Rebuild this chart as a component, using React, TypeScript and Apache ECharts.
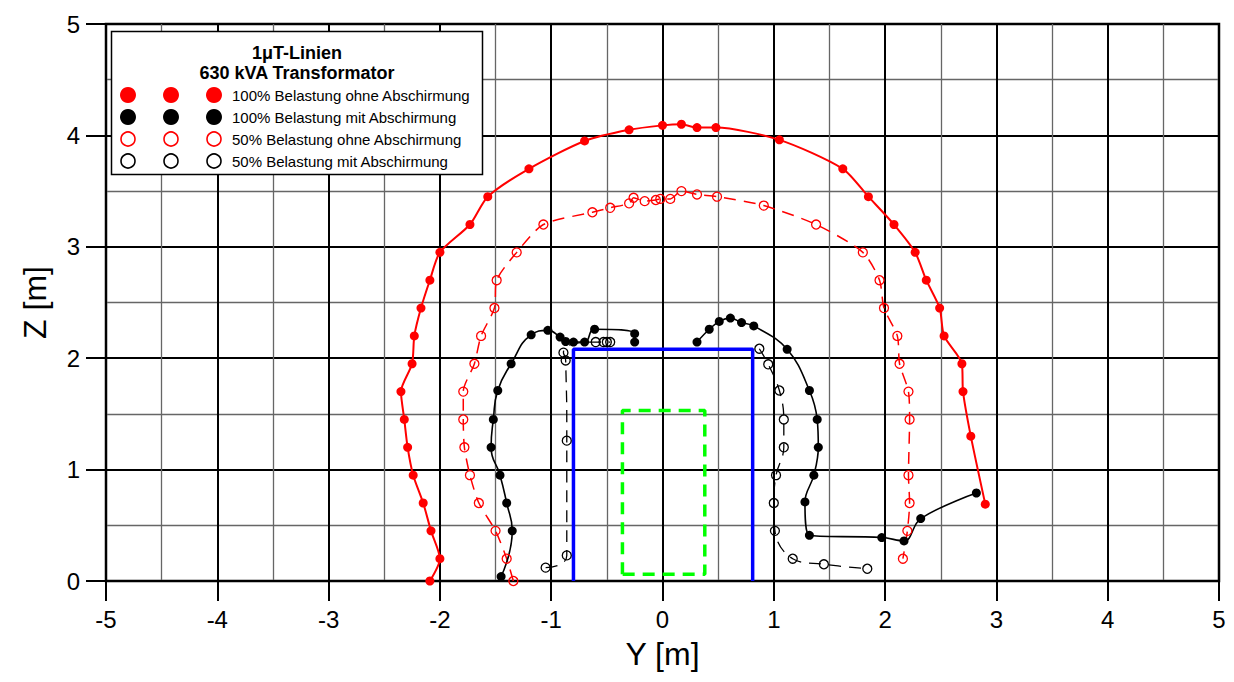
import React, { useEffect, useRef } from "react";
import * as echarts from "echarts";

// ---- data (Y [m], Z [m]) ----
const redFull: [number, number][] = [
  [-2.09, 0], [-2.0, 0.2], [-2.08, 0.45], [-2.15, 0.7], [-2.24, 0.95], [-2.29, 1.2],
  [-2.32, 1.45], [-2.35, 1.7], [-2.25, 1.95], [-2.23, 2.2], [-2.17, 2.45], [-2.09, 2.7],
  [-2.0, 2.95], [-1.73, 3.2], [-1.57, 3.45], [-1.2, 3.7], [-0.7, 3.95], [-0.3, 4.05],
  [0.0, 4.09], [0.17, 4.1], [0.31, 4.07], [0.48, 4.07], [1.05, 3.96], [1.62, 3.7],
  [1.85, 3.45], [2.08, 3.2], [2.27, 2.95], [2.37, 2.7], [2.49, 2.45], [2.53, 2.2],
  [2.69, 1.95], [2.7, 1.7], [2.77, 1.3], [2.9, 0.69],
];

const redHalf: [number, number][] = [
  [-1.34, 0], [-1.4, 0.2], [-1.5, 0.45], [-1.65, 0.7], [-1.73, 0.95], [-1.78, 1.2],
  [-1.79, 1.45], [-1.79, 1.7], [-1.69, 1.95], [-1.63, 2.2], [-1.51, 2.45], [-1.49, 2.7],
  [-1.31, 2.95], [-1.07, 3.2], [-0.63, 3.31], [-0.47, 3.35], [-0.3, 3.39], [-0.26, 3.44],
  [-0.16, 3.41], [-0.06, 3.42], [-0.02, 3.43], [0.07, 3.43], [0.17, 3.5], [0.31, 3.47],
  [0.49, 3.45], [0.91, 3.37], [1.38, 3.2], [1.8, 2.95], [1.95, 2.7], [1.99, 2.45],
  [2.11, 2.2], [2.13, 1.95], [2.21, 1.7], [2.22, 1.45], [2.21, 0.95], [2.22, 0.7],
  [2.2, 0.45], [2.16, 0.2],
];

const blackFullLeft: [number, number][] = [
  [-1.45, 0.04], [-1.35, 0.45], [-1.4, 0.7], [-1.46, 0.95], [-1.54, 1.2], [-1.52, 1.45],
  [-1.48, 1.71], [-1.36, 1.95], [-1.18, 2.21], [-1.03, 2.25], [-0.92, 2.19], [-0.87, 2.15],
  [-0.8, 2.145], [-0.7, 2.145], [-0.61, 2.26], [-0.25, 2.22], [-0.25, 2.145],
];

const blackFullRight: [number, number][] = [
  [0.31, 2.145], [0.42, 2.26], [0.51, 2.33], [0.61, 2.36], [0.71, 2.32], [0.82, 2.29],
  [1.12, 2.08], [1.32, 1.71], [1.39, 1.45], [1.4, 1.2], [1.36, 0.95], [1.28, 0.71],
  [1.32, 0.41], [1.97, 0.39], [2.17, 0.36], [2.32, 0.56], [2.82, 0.79],
];

const blackHalfLeft: [number, number][] = [
  [-1.05, 0.12], [-0.86, 0.23], [-0.86, 1.26], [-0.87, 1.98], [-0.89, 2.05],
  [-0.6, 2.145], [-0.53, 2.145], [-0.5, 2.145], [-0.47, 2.145],
];

const blackHalfRight: [number, number][] = [
  [0.87, 2.085], [0.95, 1.945], [1.05, 1.71], [1.09, 1.45], [1.09, 1.2], [1.02, 0.95],
  [1.0, 0.7], [1.01, 0.45], [1.17, 0.2], [1.45, 0.15], [1.84, 0.11],
];

const shieldOutline: [number, number][] = [
  [-0.8, 0], [-0.8, 2.08], [0.81, 2.08], [0.81, 0],
];

const transformerOutline: [number, number][] = [
  [-0.36, 0.06], [-0.36, 1.53], [0.38, 1.53], [0.38, 0.06], [-0.36, 0.06],
];

const xTicks = [-5, -4, -3, -2, -1, 0, 1, 2, 3, 4, 5];
const zTicks = [0, 1, 2, 3, 4, 5];

const legendTitle = ["1\u03bcT-Linien", "630 kVA Transformator"];
const legendLabels = [
  "100% Belastung ohne Abschirmung",
  "100% Belastung mit Abschirmung",
  "50% Belastung ohne Abschirmung",
  "50% Belastung mit Abschirmung",
];

const FONT = "'Liberation Sans', Arial, Helvetica, sans-serif";

export default function App() {
  const ref = useRef<HTMLDivElement>(null);

  useEffect(() => {
    if (!ref.current) return;
    const chart = echarts.init(ref.current, null, { renderer: "svg" });

    const filled = (color: string) => ({
      symbol: "circle",
      symbolSize: 9,
      itemStyle: { color, borderColor: color, borderWidth: 0 },
    });
    const open = (color: string) => ({
      symbol: "circle",
      symbolSize: 9,
      itemStyle: { color: "rgba(0,0,0,0)", borderColor: color, borderWidth: 1.3 },
    });

    const curve = (
      name: string,
      data: [number, number][],
      color: string,
      width: number,
      dashed: boolean,
      marker: any,
      smooth: number
    ) => ({
      name,
      type: "line",
      data,
      smooth,
      lineStyle: { color, width, type: dashed ? [12, 8] : "solid" },
      ...marker,
      z: 3,
    });

    const legendMarkerX = [128, 171, 214];
    const legendRowY = [95, 117, 139, 161];
    const legendStyles = [
      { fill: "#ff0000", stroke: "#ff0000", r: 8, lw: 0 },
      { fill: "#000000", stroke: "#000000", r: 8, lw: 0 },
      { fill: "#ffffff", stroke: "#ff0000", r: 7, lw: 1.6 },
      { fill: "#ffffff", stroke: "#000000", r: 7, lw: 1.6 },
    ];

    const graphics: any[] = [
      {
        type: "rect",
        shape: { x: 111.5, y: 31.5, width: 371, height: 143 },
        style: { fill: "#fff", stroke: "#000", lineWidth: 1.5 },
        z: 10,
      },
      {
        type: "text",
        x: 297,
        y: 53,
        style: {
          text: legendTitle[0],
          font: `bold 18px ${FONT}`,
          fill: "#000",
          align: "center",
          verticalAlign: "middle",
        },
        z: 11,
      },
      {
        type: "text",
        x: 297,
        y: 73,
        style: {
          text: legendTitle[1],
          font: `bold 18px ${FONT}`,
          fill: "#000",
          align: "center",
          verticalAlign: "middle",
        },
        z: 11,
      },
    ];
    legendLabels.forEach((label, i) => {
      const st = legendStyles[i];
      legendMarkerX.forEach((cx) => {
        graphics.push({
          type: "circle",
          shape: { cx, cy: legendRowY[i], r: st.r },
          style: { fill: st.fill, stroke: st.stroke, lineWidth: st.lw },
          z: 11,
        });
      });
      graphics.push({
        type: "text",
        x: 232,
        y: legendRowY[i],
        style: {
          text: label,
          font: `15px ${FONT}`,
          fill: "#000",
          align: "left",
          verticalAlign: "middle",
        },
        z: 11,
      });
    });

    const axisCommon = {
      type: "value" as const,
      interval: 1,
      axisLine: { show: true, onZero: false, lineStyle: { color: "#000", width: 2 } },
      axisTick: { show: true, inside: false, length: 20, lineStyle: { color: "#000", width: 2 } },
      axisLabel: { color: "#000", fontSize: 24, fontFamily: FONT, margin: 26 },
      splitLine: { show: true, lineStyle: { color: "#000", width: 2 } },
      minorTick: { show: false, splitNumber: 2 },
      minorSplitLine: { show: true, lineStyle: { color: "#666666", width: 1.3 } },
      nameLocation: "middle" as const,
      nameTextStyle: { color: "#000", fontSize: 32, fontFamily: FONT },
    };

    chart.setOption({
      animation: false,
      backgroundColor: "#fff",
      textStyle: { fontFamily: FONT },
      grid: {
        left: 106,
        right: 15,
        top: 24,
        bottom: 101,
        show: true,
        borderColor: "#000",
        borderWidth: 2.5,
        containLabel: false,
      },
      xAxis: {
        ...axisCommon,
        min: xTicks[0],
        max: xTicks[xTicks.length - 1],
        name: "Y [m]",
        nameGap: 57,
      },
      yAxis: {
        ...axisCommon,
        min: zTicks[0],
        max: zTicks[zTicks.length - 1],
        name: "Z [m]",
        nameGap: 55,
      },
      series: [
        {
          name: "Abschirmung",
          type: "line",
          data: shieldOutline,
          symbol: "none",
          lineStyle: { color: "#0000ff", width: 3.5 },
          z: 2,
        },
        {
          name: "Transformator",
          type: "line",
          data: transformerOutline,
          symbol: "none",
          lineStyle: { color: "#00ff00", width: 3.5, type: [12, 8] },
          z: 2,
        },
        curve(legendLabels[0], redFull, "#ff0000", 2, false, filled("#ff0000"), 0.25),
        curve(legendLabels[2], redHalf, "#ff0000", 1.5, true, open("#ff0000"), 0.25),
        curve(legendLabels[1], blackFullLeft, "#000000", 1.6, false, filled("#000000"), 0.5),
        curve(legendLabels[1], blackFullRight, "#000000", 1.6, false, filled("#000000"), 0.4),
        curve(legendLabels[3], blackHalfLeft, "#000000", 1.3, true, open("#000000"), 0.6),
        curve(legendLabels[3], blackHalfRight, "#000000", 1.3, true, open("#000000"), 0.4),
      ],
      graphic: graphics,
    });

    return () => chart.dispose();
  }, []);

  return (
    <div
      ref={ref}
      style={{ position: "fixed", left: 0, top: 0, width: 1234, height: 682, background: "#fff" }}
    />
  );
}
